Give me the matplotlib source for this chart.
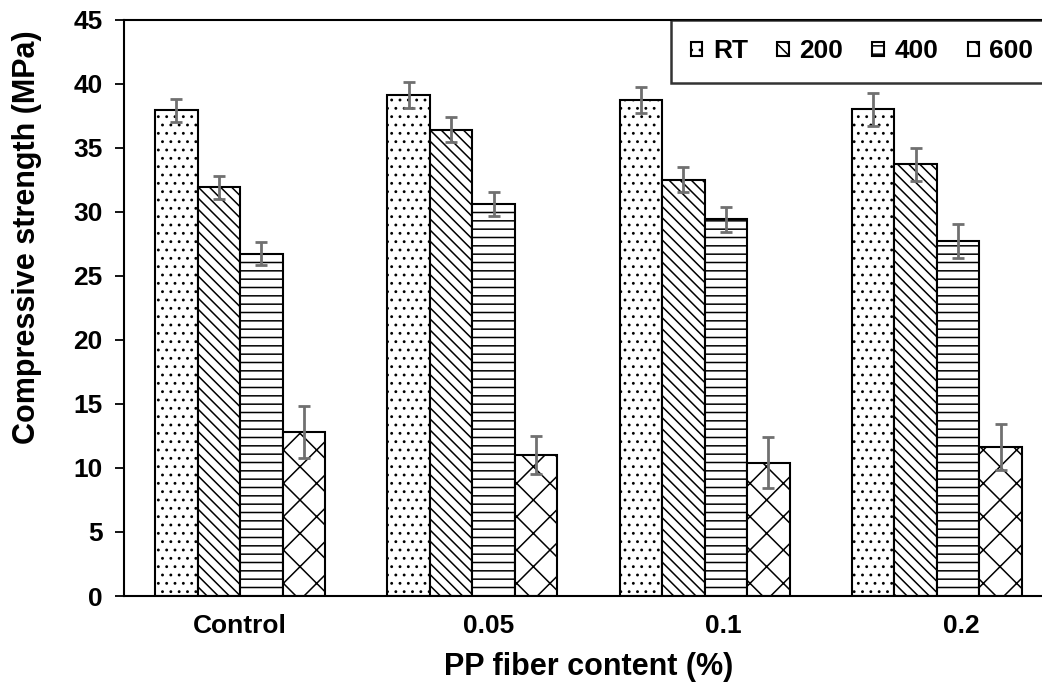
import numpy as np
import matplotlib
matplotlib.use('Agg')
import matplotlib.hatch
from matplotlib import pyplot as plt
from matplotlib.transforms import ScaledTranslation

# Data
groups = ['Control', '0.05', '0.1', '0.2']
series = ['RT', '200', '400', '600']
strength = {
    'RT': [37.9, 39.1, 38.7, 38.0],
    '200': [31.9, 36.4, 32.5, 33.7],
    '400': [26.7, 30.6, 29.4, 27.7],
    '600': [12.8, 11.0, 10.4, 11.6],
}
errors = {
    'RT': [0.9, 1.0, 1.0, 1.3],
    '200': [0.9, 1.0, 1.0, 1.3],
    '400': [0.9, 0.9, 1.0, 1.3],
    '600': [2.0, 1.5, 2.0, 1.8],
}
hatches = {'RT': '..', '200': '\\\\\\', '400': '--', '600': 'x'}

# the category labels sit a little right of their groups in the original
label_shift_px = [0, 16, 19, 24]

# smaller dots for the '.' hatch
matplotlib.hatch.SmallFilledCircles.size = 0.08

plt.rcParams['font.family'] = ['Liberation Sans', 'DejaVu Sans']
plt.rcParams['font.weight'] = 'bold'
plt.rcParams['hatch.linewidth'] = 1.1

fig = plt.figure(figsize=(10.42, 6.89), dpi=100)
ax = fig.add_axes([124 / 1042, 93 / 689, 929 / 1042, 576.5 / 689])

x = np.arange(len(groups))
width = 0.183
for i, s in enumerate(series):
    pos = x + (i - 1.5) * width
    ax.bar(pos, strength[s], width, color='white', edgecolor='black',
           linewidth=1.5, hatch=hatches[s], label=s)
    ax.errorbar(pos, strength[s], yerr=errors[s], fmt='none', ecolor='#707070',
                elinewidth=2, capsize=4.5, capthick=2)

ax.set_xlim(-0.5, 3.5)
ax.set_ylim(0, 45)
ax.set_yticks(range(0, 46, 5))
ax.set_xticks(x)
ax.set_xticklabels(groups)
ax.tick_params(axis='y', labelsize=19, width=1.3, length=6.5, pad=9)
ax.tick_params(axis='x', labelsize=19, length=0, pad=13)
for lab, dx in zip(ax.get_xticklabels(), label_shift_px):
    lab.set_transform(lab.get_transform() + ScaledTranslation(dx / 100, 0, fig.dpi_scale_trans))
for sp in ax.spines.values():
    sp.set_linewidth(1.5)

ax.set_ylabel('Compressive strength (MPa)', fontsize=22, fontweight='bold')
ax.yaxis.set_label_coords(-0.088, 0.623)
ax.set_xlabel('PP fiber content (%)', fontsize=22, fontweight='bold', labelpad=10)

leg = ax.legend(ncol=4, loc='upper right', bbox_to_anchor=(1.0, 1.0),
                fontsize=19, frameon=True, fancybox=False, edgecolor='black',
                handlelength=0.42, handleheight=0.42, handletextpad=0.4,
                columnspacing=1.12, borderpad=0.75, borderaxespad=0)
leg.get_frame().set_linewidth(1.8)

plt.savefig('out.png', dpi=100)
